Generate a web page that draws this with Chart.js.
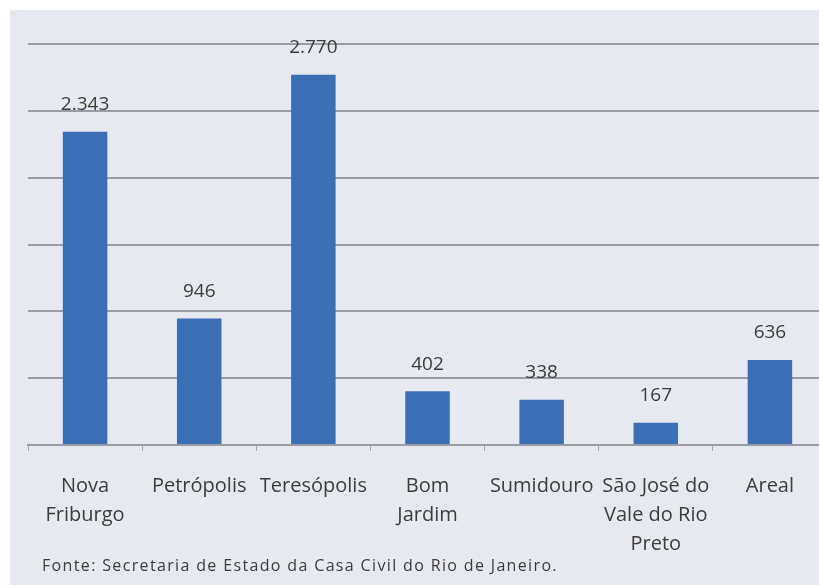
<!DOCTYPE html>
<html>
<head>
<meta charset="utf-8">
<script src="https://cdn.jsdelivr.net/npm/chart.js@4.4.1/dist/chart.umd.min.js"></script>
<style>
  html, body { margin: 0; padding: 0; background: #ffffff; overflow: hidden; width: 819px; height: 585px; }
  #panel { position: absolute; left: 10px; top: 10px; width: 820px; height: 580px; background: #e7e9f1; }
  #chart { position: absolute; left: 0; top: 0; }
  #fonte { position: absolute; left: 32px; top: 544px; font-family: "Open Sans", sans-serif; font-size: 16px; letter-spacing: 1.35px; color: #3c3c3c; }
</style>
</head>
<body>
<div id="panel">
  <canvas id="chart" width="817" height="575"></canvas>
  <div id="fonte">Fonte: Secretaria de Estado da Casa Civil do Rio de Janeiro.</div>
</div>
<script>
  // Data
  const municipios = [
    ["Nova", "Friburgo"],
    "Petrópolis",
    "Teresópolis",
    ["Bom", "Jardim"],
    "Sumidouro",
    ["São José do", "Vale do Rio", "Preto"],
    "Areal"
  ];
  const valores = [2343, 946, 2770, 402, 338, 167, 636];
  const yTicks = [0, 500, 1000, 1500, 2000, 2500, 3000];

  const fmt = (n) => String(n).replace(/\B(?=(\d{3})+(?!\d))/g, ".");

  // value labels above bars
  const barLabels = {
    id: "barLabels",
    afterDatasetsDraw(chart) {
      const ctx = chart.ctx;
      const meta = chart.getDatasetMeta(0);
      ctx.save();
      ctx.font = "19px 'Open Sans', sans-serif";
      ctx.fillStyle = "#3c3c3c";
      ctx.textAlign = "center";
      ctx.textBaseline = "middle";
      meta.data.forEach((bar, i) => {
        ctx.fillText(fmt(chart.data.datasets[0].data[i]), bar.x, bar.y - 27);
      });
      ctx.restore();
    }
  };

  new Chart(document.getElementById("chart"), {
    type: "bar",
    data: {
      labels: municipios,
      datasets: [{
        data: valores,
        backgroundColor: "#3b6eb5",
        barPercentage: 0.78,
        categoryPercentage: 0.5
      }]
    },
    options: {
      responsive: false,
      animation: false,
      layout: { padding: { left: 18, top: 34, right: 0, bottom: 5 } },
      plugins: { legend: { display: false }, tooltip: { enabled: false } },
      scales: {
        x: {
          grid: { drawOnChartArea: false, drawTicks: true, tickLength: 6, color: "#a3a5ae", offset: true },
          border: { display: true, color: "#9a9ca5", width: 2 },
          ticks: {
            autoSkip: false, maxRotation: 0, padding: 21,
            color: "#3c3c3c",
            font: { family: "'Open Sans', sans-serif", size: 20, lineHeight: 1.45 }
          }
        },
        y: {
          min: yTicks[0],
          max: yTicks[yTicks.length - 1],
          afterBuildTicks: (axis) => { axis.ticks = yTicks.map(v => ({ value: v })); },
          grid: { color: "#9a9ca5", lineWidth: 2, drawTicks: false },
          border: { display: false },
          ticks: { display: false }
        }
      }
    },
    plugins: [barLabels]
  });
</script>
</body>
</html>
